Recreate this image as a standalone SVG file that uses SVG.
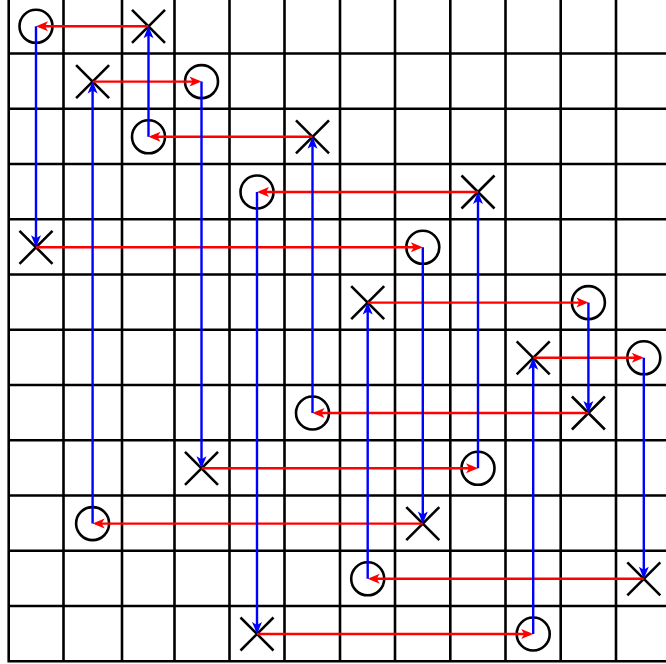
<svg xmlns="http://www.w3.org/2000/svg" xmlns:xlink="http://www.w3.org/1999/xlink" width="666" height="664" viewBox="0 0 666 664">
<style>
.grid{fill:none;stroke:#000;stroke-width:2.6}
.o{fill:none;stroke:#000;stroke-width:2.6}
.x{fill:none;stroke:#000;stroke-width:2.6}
.red{fill:none;stroke:#f00;stroke-width:2.4;marker-end:url(#ar)}
.blue{fill:none;stroke:#00f;stroke-width:2.4;marker-end:url(#ab)}
</style>
<defs>
<marker id="ar" markerUnits="userSpaceOnUse" orient="auto" refX="0" refY="0" markerWidth="1" markerHeight="1" style="overflow:visible"><path d="M3,0 L-9,-5 L-6,0 L-9,5 Z" fill="#f00"/></marker>
<marker id="ab" markerUnits="userSpaceOnUse" orient="auto" refX="0" refY="0" markerWidth="1" markerHeight="1" style="overflow:visible"><path d="M3,0 L-9,-5 L-6,0 L-9,5 Z" fill="#00f"/></marker>
<circle id="O" r="16.5" class="o"/>
<path id="X" class="x" d="M-16.5,-16.5 L16.5,16.5 M16.5,-16.5 L-16.5,16.5"/>
</defs>
<rect width="666" height="664" fill="#fff"/>
<path class="grid" d="M8.7,-2V661.25 M63.5,-2V661.25 M122,-2V661.25 M174.5,-2V661.25 M229.5,-2V661.25 M284.5,-2V661.25 M340,-2V661.25 M395,-2V661.25 M450.3,-2V661.25 M505.5,-2V661.25 M560.7,-2V661.25 M616,-2V661.25 M7.4,-1.75H670 M7.4,53.5H670 M7.4,108.75H670 M7.4,164H670 M7.4,219.25H670 M7.4,274.5H670 M7.4,329.75H670 M7.4,385H670 M7.4,440.25H670 M7.4,495.5H670 M7.4,550.75H670 M7.4,606H670 M7.4,661.25H670"/>
<g id="nodes">
<g id="o-r0"><use xlink:href="#O" href="#O" x="36" y="26.3"/></g>
<g id="x-r0"><use xlink:href="#X" href="#X" x="148.5" y="26.3"/></g>
<g id="x-r1"><use xlink:href="#X" href="#X" x="92.6" y="81.6"/></g>
<g id="o-r1"><use xlink:href="#O" href="#O" x="201.5" y="81.6"/></g>
<g id="o-r2"><use xlink:href="#O" href="#O" x="148.5" y="136.8"/></g>
<g id="x-r2"><use xlink:href="#X" href="#X" x="312.5" y="136.8"/></g>
<g id="o-r3"><use xlink:href="#O" href="#O" x="257" y="192"/></g>
<g id="x-r3"><use xlink:href="#X" href="#X" x="478" y="192"/></g>
<g id="x-r4"><use xlink:href="#X" href="#X" x="36" y="247.3"/></g>
<g id="o-r4"><use xlink:href="#O" href="#O" x="422.8" y="247.3"/></g>
<g id="x-r5"><use xlink:href="#X" href="#X" x="367.7" y="302.6"/></g>
<g id="o-r5"><use xlink:href="#O" href="#O" x="588.4" y="302.6"/></g>
<g id="x-r6"><use xlink:href="#X" href="#X" x="533.2" y="357.8"/></g>
<g id="o-r6"><use xlink:href="#O" href="#O" x="643.8" y="357.8"/></g>
<g id="o-r7"><use xlink:href="#O" href="#O" x="312.5" y="413"/></g>
<g id="x-r7"><use xlink:href="#X" href="#X" x="588.4" y="413"/></g>
<g id="x-r8"><use xlink:href="#X" href="#X" x="201.5" y="468.3"/></g>
<g id="o-r8"><use xlink:href="#O" href="#O" x="478" y="468.3"/></g>
<g id="o-r9"><use xlink:href="#O" href="#O" x="92.6" y="523.6"/></g>
<g id="x-r9"><use xlink:href="#X" href="#X" x="422.8" y="523.6"/></g>
<g id="o-r10"><use xlink:href="#O" href="#O" x="367.7" y="578.8"/></g>
<g id="x-r10"><use xlink:href="#X" href="#X" x="643.8" y="578.8"/></g>
<g id="x-r11"><use xlink:href="#X" href="#X" x="257" y="634"/></g>
<g id="o-r11"><use xlink:href="#O" href="#O" x="533.2" y="634"/></g>
</g>
<g id="connectors">
<g id="horizontal">
<path class="red" d="M148.5,26.3 H39"/>
<path class="red" d="M92.6,81.6 H198.5"/>
<path class="red" d="M312.5,136.8 H151.5"/>
<path class="red" d="M478,192 H260"/>
<path class="red" d="M36,247.3 H419.8"/>
<path class="red" d="M367.7,302.6 H585.4"/>
<path class="red" d="M533.2,357.8 H640.8"/>
<path class="red" d="M588.4,413 H315.5"/>
<path class="red" d="M201.5,468.3 H475"/>
<path class="red" d="M422.8,523.6 H95.6"/>
<path class="red" d="M643.8,578.8 H370.7"/>
<path class="red" d="M257,634 H530.2"/>
</g>
<g id="vertical">
<path class="blue" d="M36,26.3 V244.3"/>
<path class="blue" d="M92.6,523.6 V84.6"/>
<path class="blue" d="M148.5,136.8 V29.3"/>
<path class="blue" d="M201.5,81.6 V465.3"/>
<path class="blue" d="M257,192 V631"/>
<path class="blue" d="M312.5,413 V139.8"/>
<path class="blue" d="M367.7,578.8 V305.6"/>
<path class="blue" d="M422.8,247.3 V520.6"/>
<path class="blue" d="M478,468.3 V195"/>
<path class="blue" d="M533.2,634 V360.8"/>
<path class="blue" d="M588.4,302.6 V410"/>
<path class="blue" d="M643.8,357.8 V575.8"/>
</g>
</g>
</svg>
